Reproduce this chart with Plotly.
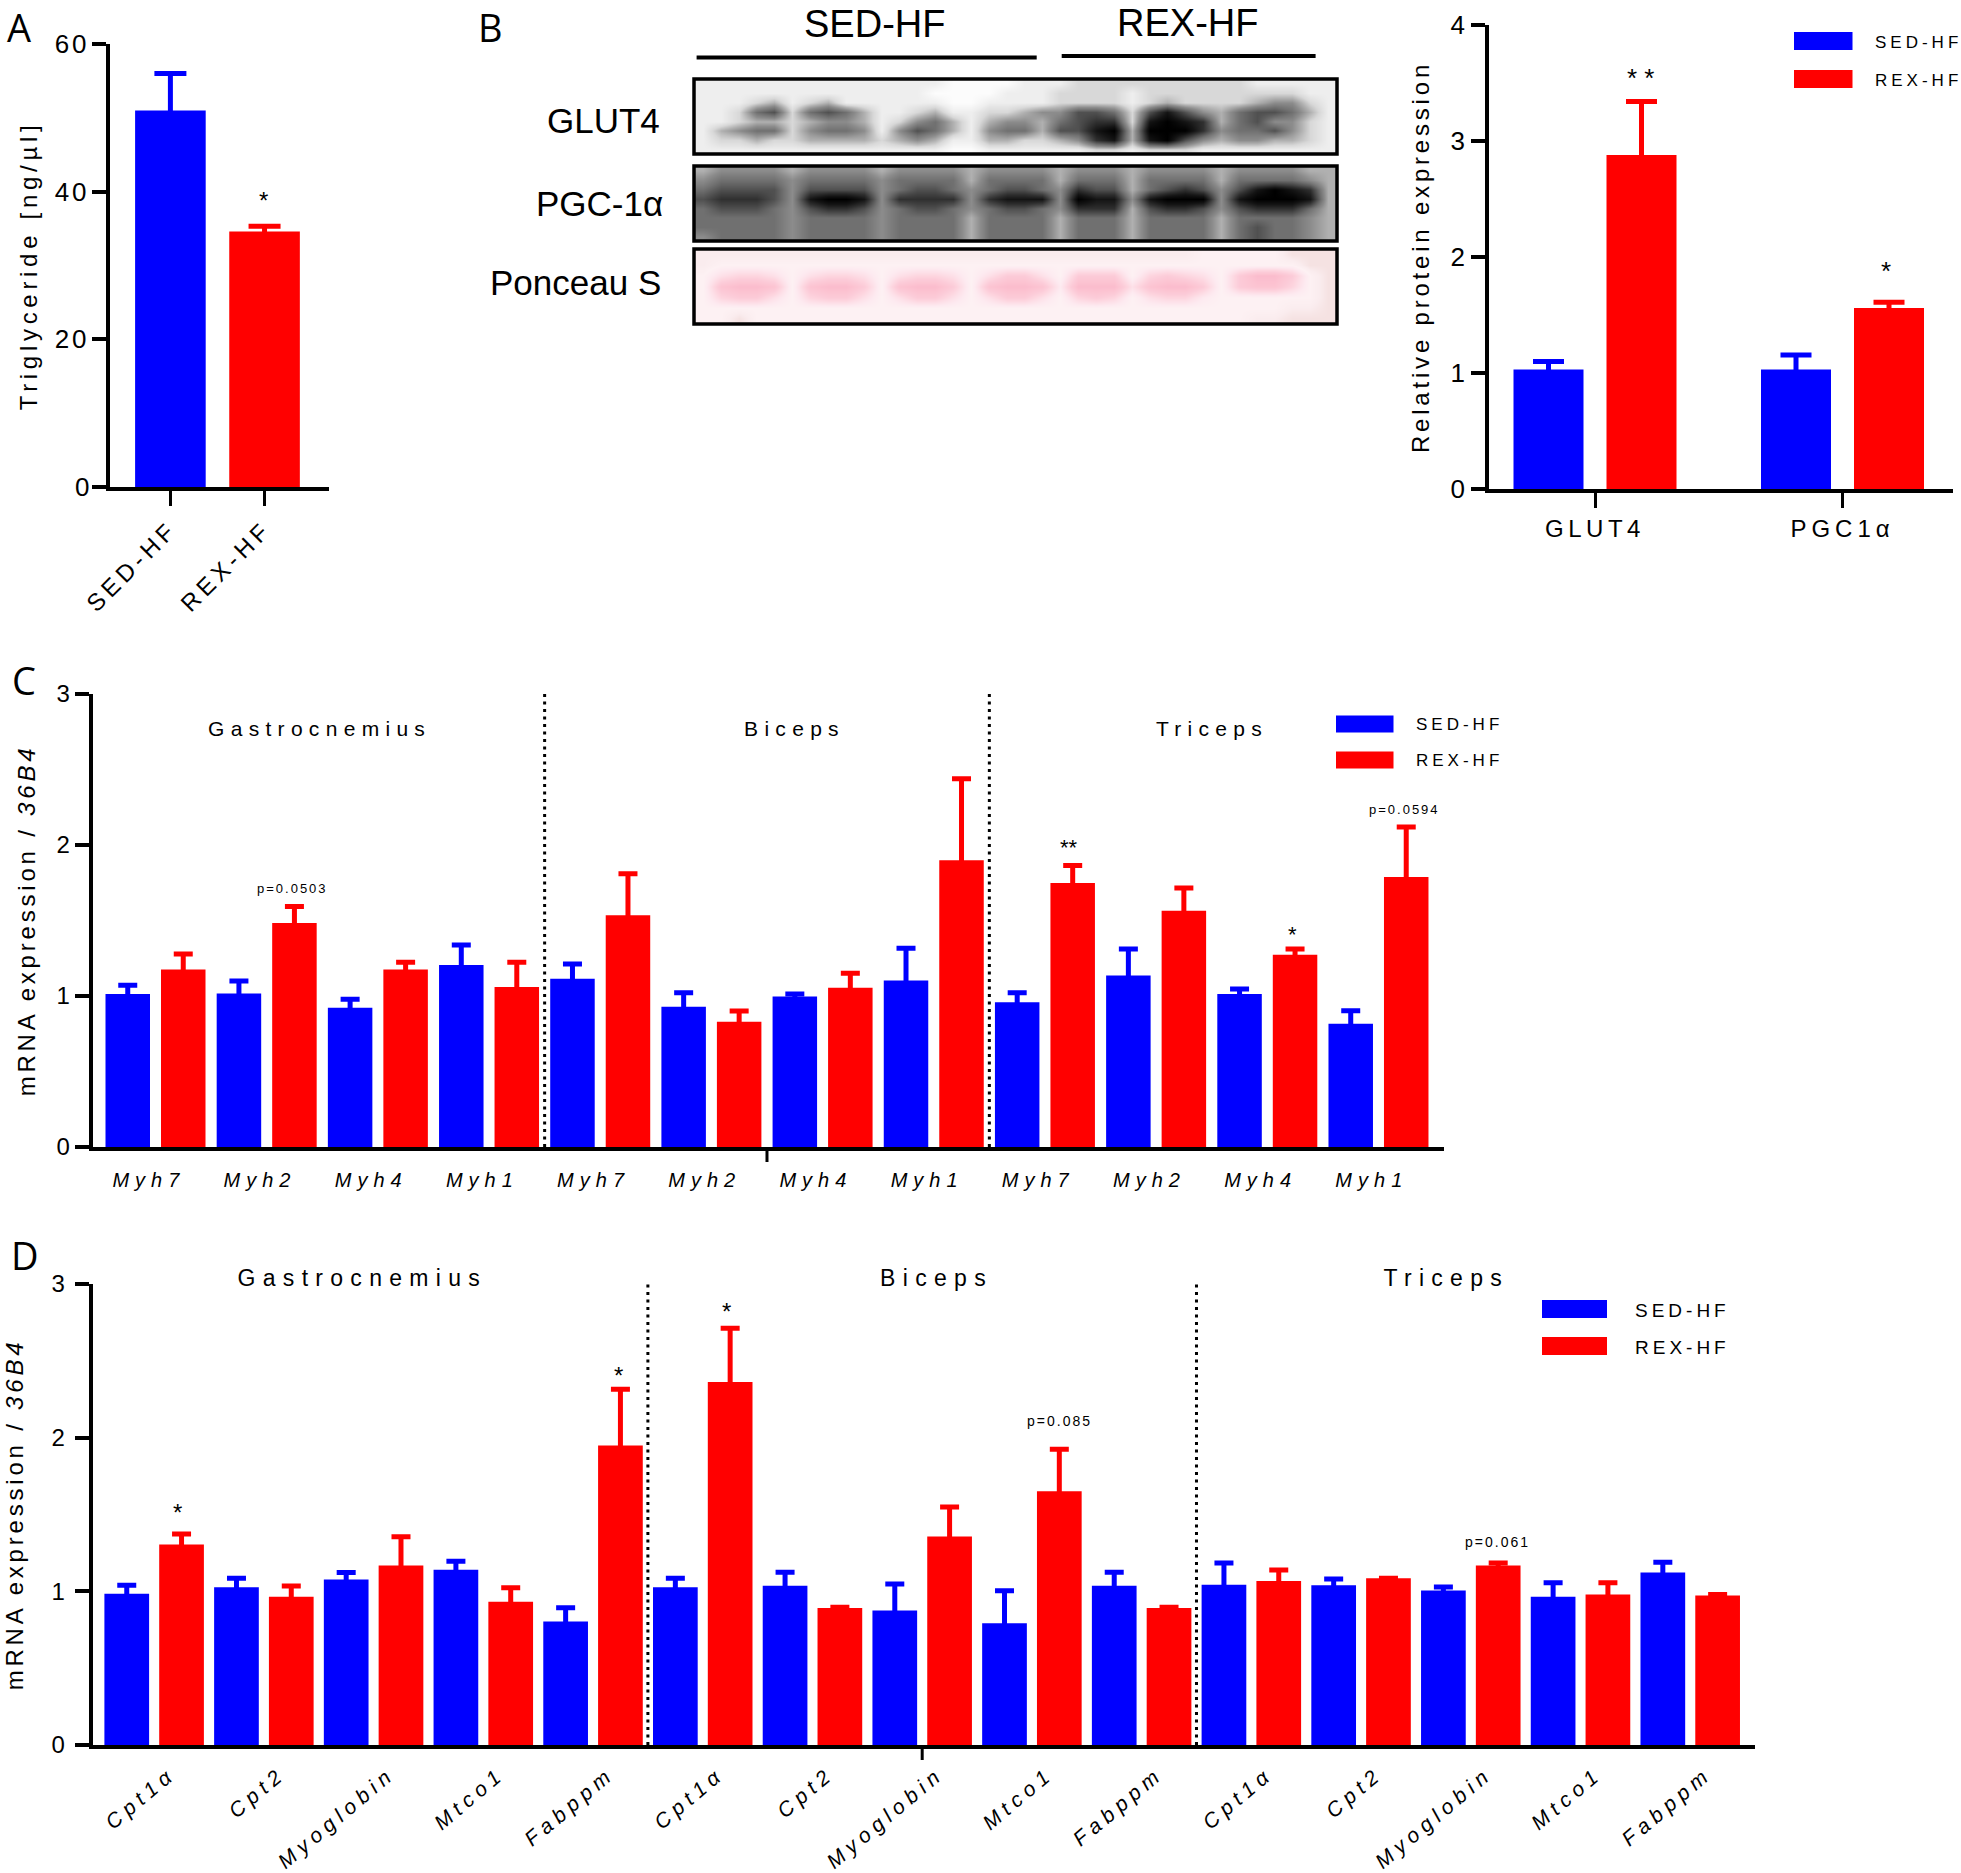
import json
import plotly.graph_objects as go

W, H = 1961, 1873
BLUE, RED = "#0000ff", "#ff0000"
FONT = "Liberation Sans, Arial, sans-serif"

# ---------- Panel A ----------
A_LABELS = ["SED-HF", "REX-HF"]
A_VALUES = [51.0, 34.6]
A_TOPS = [56.0, 35.3]

# ---------- Panel B ----------
B_LABELS = ["GLUT4", "PGC1α"]
B_SED = [1.03, 1.03]
B_SED_TOP = [1.10, 1.155]
B_REX = [2.88, 1.56]
B_REX_TOP = [3.34, 1.61]

# ---------- Panel C ----------
C_LABELS = ["Myh7", "Myh2", "Myh4", "Myh1"] * 3
C_SED = [1.014, 1.017, 0.923, 1.205, 1.114, 0.928, 0.996, 1.103, 0.958, 1.135, 1.014, 0.817]
C_SED_TOP = [1.071, 1.099, 0.978, 1.337, 1.212, 1.021, 1.014, 1.317, 1.021, 1.312, 1.046, 0.903]
C_REX = [1.176, 1.483, 1.176, 1.060, 1.535, 0.830, 1.055, 1.899, 1.749, 1.565, 1.274, 1.788]
C_REX_TOP = [1.278, 1.592, 1.224, 1.224, 1.810, 0.900, 1.151, 2.438, 1.865, 1.715, 1.312, 2.120]

# ---------- Panel D ----------
D_LABELS = ["Cpt1α", "Cpt2", "Myoglobin", "Mtco1", "Fabppm"] * 3
D_SED = [0.984, 1.027, 1.077, 1.141, 0.803, 1.027, 1.037, 0.875, 0.792, 1.037, 1.043, 1.040, 1.005, 0.965, 1.123]
D_SED_TOP = [1.040, 1.085, 1.123, 1.195, 0.893, 1.085, 1.125, 1.048, 1.003, 1.125, 1.184, 1.080, 1.029, 1.056, 1.189]
D_REX = [1.304, 0.965, 1.168, 0.933, 1.949, 2.363, 0.891, 1.357, 1.651, 0.891, 1.067, 1.085, 1.168, 0.979, 0.973]
D_REX_TOP = [1.373, 1.035, 1.355, 1.024, 2.315, 2.712, 0.896, 1.549, 1.925, 0.896, 1.139, 1.085, 1.184, 1.056, 0.979]

# ---------- Blot darkness, read by eye on a coarse grid (0 light .. 9 dark) ----------
GLUT4_BLOT = [
    "111111111111110000111222222222211111",
    "111111111111100001112222122222222211",
    "111231231111110011112222123222234421",
    "112562565311231122344665268643566531",
    "112332344312453134435677289873564421",
    "134552455414653145536689399974556421",
    "122322333323431133223478389643443321",
    "111111111111110011111122122211111111",
]
PGC_BLOT = [
    "344443444434444344443444344443444433",
    "455554555545555355553555355553555543",
    "566664666645665456654766356764689873",
    "677764899847777478884988489994899983",
    "566654677645665456654777367764677753",
    "555554555545555355553555355553555543",
    "555554555545555355553555355553565543",
    "455554555545555355553555355553565543",
]
PONCEAU_BLOT = [
    "222222222222222222222222222233333111",
    "233333333333333333333333333333333311",
    "356653566535665357753777367653799731",
    "389983899738997389984999589973788631",
    "367753677535775357753676356643333331",
    "333333333333333333333333333333333221",
    "331333333333333333333333333333322111",
]

def digits(rows):
    return [[int(c) for c in r] for r in rows]

def px(x):
    return x / W

def py(y):
    return 1 - y / H

fig = go.Figure()
shapes, annotations = [], []

def axis_id(n, letter):
    return f"{letter}{n}" if n > 1 else letter

def layout_name(n, letter):
    return f"{letter}axis{n}" if n > 1 else f"{letter}axis"

def add_bars(n, xs, vals, tops, color, name, width, offset, cap):
    # the lower whisker runs down to the clipped baseline so no second cap shows on the bar top
    fig.add_trace(go.Bar(
        x=xs, y=vals, name=name, width=width, offset=offset,
        marker=dict(color=color, line=dict(width=0)), showlegend=False,
        error_y=dict(type="data", symmetric=False,
                     array=[t - v for t, v in zip(tops, vals)],
                     arrayminus=list(vals),
                     color=color, thickness=5, width=cap),
        xaxis=axis_id(n, "x"), yaxis=axis_id(n, "y"),
    ))

def setup_axes(n, L, R, top, bottom, c0, pitch, ymax, ytick, labels, labelvals, title,
               tick_size=26, title_standoff=10, y_standoff=6, x_size=20, xangle=0, xticks=False, xstandoff=0):
    fig.layout[layout_name(n, "x")] = dict(
        domain=[px(L), px(R)], range=[(L - c0) / pitch, (R - c0) / pitch],
        anchor=axis_id(n, "y"), showgrid=False, zeroline=False, showline=True,
        linecolor="black", linewidth=3.5,
        tickmode="array", tickvals=labelvals, ticktext=labels,
        ticks="outside" if xticks else "", ticklen=15, tickwidth=3, tickcolor="black",
        tickfont=dict(family=FONT, size=x_size, color="black"), tickangle=xangle,
        ticklabelstandoff=xstandoff,
    )
    fig.layout[layout_name(n, "y")] = dict(
        domain=[py(bottom), py(top)], range=[0, ymax],
        anchor=axis_id(n, "x"), showgrid=False, zeroline=False, showline=True,
        linecolor="black", linewidth=3.5,
        tickmode="array", tickvals=list(range(0, ymax + 1, ytick)),
        ticks="outside", ticklen=14, tickwidth=3.5, tickcolor="black",
        tickfont=dict(family=FONT, size=tick_size, color="black"),
        ticklabelstandoff=y_standoff,
        title=dict(text=title, font=dict(family=FONT, size=24, color="black"), standoff=title_standoff),
    )

def ann(x, y, text, size, family=FONT, xanchor="center"):
    annotations.append(dict(
        x=px(x), y=py(y), xref="paper", yref="paper", text=text, showarrow=False,
        xanchor=xanchor, yanchor="middle", align="center",
        font=dict(family=family, size=size, color="black"),
    ))

def star(x, y, text="*", size=24):
    # the glyph sits high in its line box
    ann(x, y + size * 0.2, text, size)

def legend(x0, x1, y_blue, y_red, h, label_x, size, label_dy=0):
    for yc, col, lab in ((y_blue, BLUE, "SED-HF"), (y_red, RED, "REX-HF")):
        shapes.append(dict(type="rect", xref="paper", yref="paper", x0=px(x0), x1=px(x1),
                           y0=py(yc + h / 2), y1=py(yc - h / 2), fillcolor=col, line=dict(width=0)))
        ann(label_x, yc + label_dy, lab, size)

def hline(x0, x1, y, w):
    shapes.append(dict(type="line", xref="paper", yref="paper", x0=px(x0), x1=px(x1),
                       y0=py(y), y1=py(y), line=dict(color="black", width=w)))

def vline(n, x, y0, y1, w, dash="solid"):
    shapes.append(dict(type="line", xref=axis_id(n, "x"), yref="paper", x0=x, x1=x,
                       y0=py(y0), y1=py(y1), line=dict(color="black", width=w, dash=dash)))

DOTS = "3px,4.5px"

# Panel A
a_w = 70.6 / 94.15
add_bars(1, [0], A_VALUES[:1], A_TOPS[:1], BLUE, "SED-HF", a_w, -a_w / 2, 16)
add_bars(1, [1], A_VALUES[1:], A_TOPS[1:], RED, "REX-HF", a_w, -a_w / 2, 16)
setup_axes(1, 109.5, 329, 44, 487, 170.4, 94.15, 60, 20, A_LABELS, [0.0, 1.0],
           "Triglyceride [ng/µl]", x_size=24, xangle=-45, xticks=True,
           y_standoff=-3, title_standoff=17)
star(263, 196)

# Panel B
b_w, b_o = 70 / 247.5, 46.5 / 247.5
b_x = [0, 1]
add_bars(2, b_x, B_SED, B_SED_TOP, BLUE, "SED-HF", b_w, -b_o - b_w / 2, 15.5)
add_bars(2, b_x, B_REX, B_REX_TOP, RED, "REX-HF", b_w, b_o - b_w / 2, 15.5)
setup_axes(2, 1489, 1953, 25, 489, 1595, 247.5, 4, 1, B_LABELS, [0.0, 1.0],
           "Relative protein expression", x_size=24, xticks=True, y_standoff=1, title_standoff=15)
legend(1794, 1852.5, 41, 79, 18, 1918, 17, label_dy=1.5)
star(1640, 72.5, "* *", 26)
star(1886, 266, "*", 26)

# Panel C
c_w, c_o = 44.5 / 111.18, 27.75 / 111.18
c_x = list(range(12))
add_bars(3, c_x, C_SED, C_SED_TOP, BLUE, "SED-HF", c_w, -c_o - c_w / 2, 9.5)
add_bars(3, c_x, C_REX, C_REX_TOP, RED, "REX-HF", c_w, c_o - c_w / 2, 9.5)
setup_axes(3, 92.5, 1444, 694, 1147, 155.5, 111.18, 3, 1,
           [f"<i>{t}</i>" for t in C_LABELS], [i - 0.06 for i in c_x],
           "mRNA expression / <i>36B4</i>", tick_size=24, x_size=20, xstandoff=12,
           y_standoff=0, title_standoff=15)
vline(3, 3.5, 1147, 690, 3, DOTS)
vline(3, 7.5, 1147, 690, 3, DOTS)
vline(3, 5.5, 1147, 1162, 3)
legend(1336, 1393.5, 724, 760, 17, 1459, 17)
ann(319.5, 728, "Gastrocnemius", 21)
ann(794, 728, "Biceps", 21)
ann(1212, 728, "Triceps", 21)
ann(292.6, 888, "p=0.0503", 13)
ann(1404.4, 809, "p=0.0594", 13)
star(1069, 843, "**", 22)
star(1292, 930, "*", 22)

# Panel D
d_w, d_o = 44.7 / 109.72, 27.4 / 109.72
d_x = list(range(15))
add_bars(4, d_x, D_SED, D_SED_TOP, BLUE, "SED-HF", d_w, -d_o - d_w / 2, 9.5)
add_bars(4, d_x, D_REX, D_REX_TOP, RED, "REX-HF", d_w, d_o - d_w / 2, 9.5)
setup_axes(4, 92.5, 1755, 1284, 1745, 154.15, 109.72, 3, 1,
           [f"<i>{t}</i>" for t in D_LABELS], [i + 0.15 for i in d_x],
           "mRNA expression / <i>36B4</i>", tick_size=24, x_size=21, xangle=-40, xstandoff=5,
           y_standoff=5, title_standoff=22)
vline(4, 4.5, 1745, 1280, 3, DOTS)
vline(4, 9.5, 1745, 1280, 3, DOTS)
vline(4, 7, 1745, 1760, 3)
legend(1542, 1607, 1309, 1346, 18, 1682, 19, label_dy=1)
ann(362.7, 1278, "Gastrocnemius", 23)
ann(936.7, 1278, "Biceps", 23)
ann(1446, 1278, "Triceps", 23)
ann(1059, 1421, "p=0.085", 14)
ann(1497, 1542, "p=0.061", 14)
star(177.6, 1508)
star(618, 1371)
star(726.6, 1307)

# Blots
def blot(n, rows, top, bottom, scale):
    z = digits(rows)
    L, R = 694, 1337
    fig.add_trace(go.Heatmap(z=z, zmin=0, zmax=9, colorscale=scale, showscale=False, zsmooth="best",
                             xaxis=axis_id(n, "x"), yaxis=axis_id(n, "y"), hoverinfo="skip"))
    nr, nc = len(z), len(z[0])
    fig.layout[layout_name(n, "x")] = dict(domain=[px(L), px(R)], range=[-0.5, nc - 0.5], visible=False,
                                           anchor=axis_id(n, "y"))
    fig.layout[layout_name(n, "y")] = dict(domain=[py(bottom), py(top)], range=[nr - 0.5, -0.5], visible=False,
                                           anchor=axis_id(n, "x"))
    shapes.append(dict(type="rect", xref="paper", yref="paper", x0=px(L), x1=px(R), y0=py(bottom), y1=py(top),
                       line=dict(color="black", width=3.5)))

GRAY_STOPS = ["#fcfcfc", "#eeeeee", "#d8d8d8", "#b0b0b0", "#8c8c8c", "#707070", "#505050", "#303030", "#141414", "#000000"]
PINK_STOPS = ["#efdcd8", "#f5e2e2", "#faecee", "#fdf1f3", "#fdeaf0", "#fde0e8", "#fdd5df", "#fccbd8", "#fcc4d2", "#fbbccd"]
def scale(stops):
    return [[i / 9, c] for i, c in enumerate(stops)]

blot(5, GLUT4_BLOT, 79, 154, scale(GRAY_STOPS))
blot(6, PGC_BLOT, 166, 241, scale(GRAY_STOPS))
blot(7, PONCEAU_BLOT, 249, 324, scale(PINK_STOPS))
hline(696.6, 1036.7, 57.5, 4)
hline(1061.7, 1315.6, 56, 4)
ann(874, 24, "SED-HF", 38)
ann(1187, 23, "REX-HF", 38)
ann(662, 120, "GLUT4", 35, xanchor="right")
ann(665, 204, "PGC-1α", 35, xanchor="right")
ann(663, 282.6, "Ponceau S", 35, xanchor="right")

# Panel letters
for x, y, t in ((19, 27.5, "A"), (490, 27, "B"), (24, 680, "C"), (25, 1255, "D")):
    ann(x, y, t, 38, family="Open Sans")

fig.update_layout(
    width=W, height=H, margin=dict(l=0, r=0, t=0, b=0, autoexpand=False), autosize=False,
    paper_bgcolor="white", plot_bgcolor="white", barmode="overlay",
    shapes=shapes, annotations=annotations,
)

# The figure's text is letter-spaced; Plotly has no attribute for that.
SPACING = {
    "60": 3, "40": 3, "20": 3,
    "Triglyceride [ng/µl]": 4.7, "Relative protein expression": 3.8, "mRNA expression / 36B4": 3.8,
    "PGC1α": 5,
    "Myh7": 6, "Myh2": 6, "Myh4": 6, "Myh1": 6,
    "Cpt1α": 5.5, "Cpt2": 5.5, "Myoglobin": 5.5, "Mtco1": 5.5, "Fabppm": 5.5,
    "p=0.0503": 2, "p=0.0594": 2, "p=0.085": 2, "p=0.061": 2,
}
post = """
document.body.style.margin='0';document.documentElement.style.overflow='hidden';
var S=%s;
document.querySelectorAll('svg text').forEach(function(t){
  var c=t.textContent, fs=parseFloat(t.style.fontSize)||0, sp=S[c];
  if(c==='SED-HF'||c==='REX-HF'||c==='GLUT4'){ sp = fs<30 ? (fs>=22?4.5:4) : 0; }
  if(c==='Gastrocnemius'||c==='Biceps'||c==='Triceps'){ sp = fs<22 ? 6.3 : 7.3; }
  if(sp){t.style.letterSpacing=sp+'px';}
});
""" % json.dumps(SPACING)

fig.write_html("out.html", post_script=post, config=dict(displayModeBar=False))
